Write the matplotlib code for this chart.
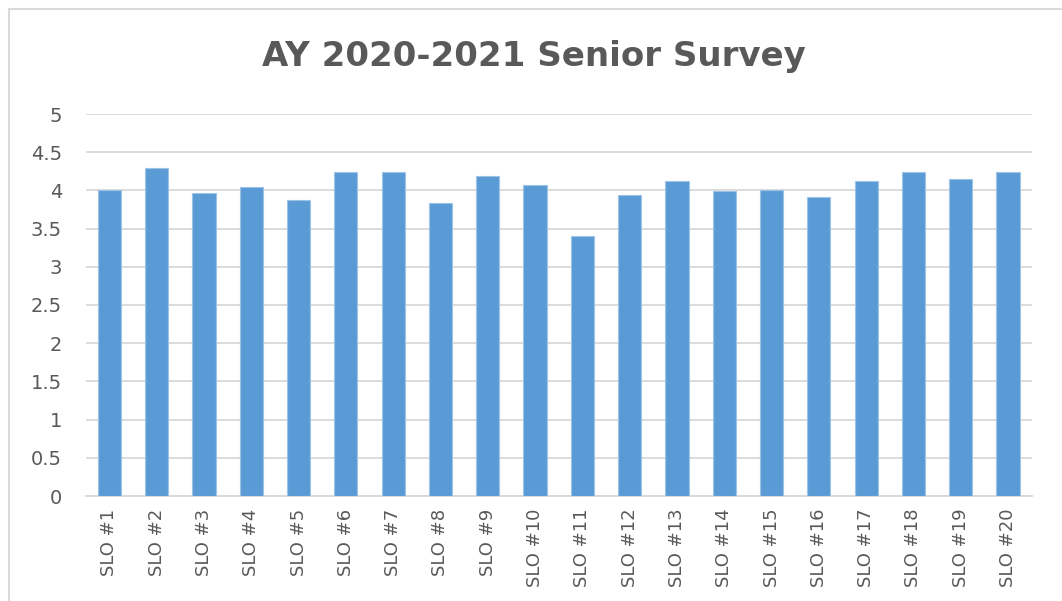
import matplotlib
matplotlib.use("Agg")
import matplotlib.pyplot as plt
from matplotlib.lines import Line2D

categories = [f"SLO #{i}" for i in range(1, 21)]
values = [4.00, 4.29, 3.97, 4.04, 3.87, 4.24, 4.24, 3.83, 4.19, 4.07,
          3.40, 3.94, 4.12, 3.99, 4.00, 3.92, 4.12, 4.24, 4.15, 4.24]
yticks = [0, 0.5, 1, 1.5, 2, 2.5, 3, 3.5, 4, 4.5, 5]
ytick_labels = ["0", "0.5", "1", "1.5", "2", "2.5", "3", "3.5", "4", "4.5", "5"]
title = "AY 2020-2021 Senior Survey"

W, H = 1062, 601
fig = plt.figure(figsize=(W / 100, H / 100), dpi=100)
fig.patch.set_facecolor("white")

# chart border (top and left visible)
fig.add_artist(Line2D([8.5 / W, 1.0], [1 - 8.5 / H, 1 - 8.5 / H], color="#d9d9d9", lw=1.5))
fig.add_artist(Line2D([8.5 / W, 8.5 / W], [0, 1 - 8.5 / H], color="#d9d9d9", lw=1.5))

left, right = 85.7, 1031.7
top, bottom = 114, 496
ax = fig.add_axes([left / W, 1 - bottom / H, (right - left) / W, (bottom - top) / H])

x = range(len(categories))
ax.bar(x, values, width=0.49, color="#5b9bd5", edgecolor="#9dc3e6", linewidth=0.8, zorder=3)
ax.set_xlim(-0.5, len(categories) - 0.5)
ax.set_ylim(0, 5)
ax.set_yticks(yticks)
ax.set_yticklabels(ytick_labels)
ax.set_xticks(list(x))
ax.set_xticklabels(categories, rotation=90)

ax.yaxis.grid(True, color="#d9d9d9", linewidth=1.3, zorder=0)
ax.set_axisbelow(True)
for s in ["top", "right", "left"]:
    ax.spines[s].set_visible(False)
ax.spines["bottom"].set_color("#d9d9d9")
ax.spines["bottom"].set_linewidth(1.3)
ax.tick_params(axis="both", length=0, colors="#595959")
ax.tick_params(axis="y", pad=17, labelsize=14)
ax.tick_params(axis="x", pad=9, labelsize=13)
for lab in ax.get_xticklabels() + ax.get_yticklabels():
    lab.set_fontfamily("DejaVu Sans")
    lab.set_color("#595959")

fig.text(534 / W, 1 - 66 / H, title, ha="center", va="baseline", fontsize=24.5,
         fontweight="bold", color="#595959", family="DejaVu Sans")

fig.savefig("out.png", dpi=100, facecolor="white")
